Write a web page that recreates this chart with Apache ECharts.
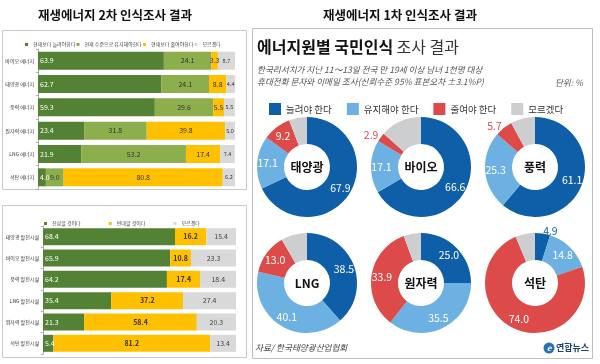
<!DOCTYPE html>
<html><head><meta charset="utf-8">
<script src="https://cdn.jsdelivr.net/npm/echarts@6/dist/echarts.min.js"></script>
<style>html,body{margin:0;padding:0;background:#fff}#c{width:600px;height:364px}</style>
</head><body><div id="c"></div>
<script>
// ---- Data: 2nd survey (top-left) ----
const catsTop = ['바이오 에너지','태양광 에너지','풍력 에너지','원자력 에너지','LNG 에너지','석탄 에너지'];
const namesTop = ['현재보다 늘려야한다','현재 수준으로 유지해야한다','현재보다 줄여야한다','모르겠다'];
const topIncrease = [63.9,62.7,59.3,23.4,21.9,4.0];
const topMaintain = [24.1,24.1,29.6,31.8,53.2,9.0];
const topDecrease = [3.3,8.8,5.5,39.8,17.4,80.8];
const topUnknown  = [8.7,4.4,5.5,5.0,7.4,6.2];

// ---- Data: 2nd survey (bottom-left) ----
const catsBottom = ['태양광 발전시설','바이오 발전시설','풍력 발전시설','LNG 발전시설','원자력 발전시설','석탄 발전시설'];
const namesBottom = ['찬성할 것이다','반대할 것이다','모르겠다'];
const botAgree  = [68.4,65.9,64.2,35.4,21.3,5.4];
const botOppose = [16.2,10.8,17.4,37.2,58.4,81.2];
const botUnsure = [15.4,23.3,18.4,27.4,20.3,13.4];

// ---- Data: 1st survey (donuts) ----
const pieNames = ['늘려야 한다','유지해야 한다','줄여야 한다','모르겠다'];
const pieSources = ['태양광','바이오','풍력','LNG','원자력','석탄'];
const pieIncrease = [67.9,66.6,61.1,38.5,25.0,4.9];
const pieMaintain = [17.1,17.1,25.3,40.1,35.5,14.8];
const pieDecrease = [9.2,2.9,5.7,13.0,33.9,74.0];
const pieUnknown  = [5.8,13.4,7.9,8.4,5.6,6.3];

// ---- Styling / layout ----
const FONT = '"Noto Sans CJK KR", "Noto Sans", sans-serif';
const greenD = '#548235', greenL = '#8DAE4C', yellow = '#FFC000', grayL = '#D9D9D9';
const pieColors = ['#0E5FA8','#6DB1E2','#DC4A4A','#CDCED0'];
const pieCenters = [[307,167],[421,167],[535,167],[307,283],[421,283],[535,283]];

const chart = echarts.init(document.getElementById('c'), null, {renderer:'canvas'});

const fmt = p => p.value.toFixed(1);
function barSeries(name, data, color, xi, labelColor, pos, bw, bold) {
  return {
    type:'bar', name, data, stack:'s'+xi, xAxisIndex:xi, yAxisIndex:xi, barWidth:bw,
    itemStyle:{color}, silent:true,
    label:{show:true, position:pos, formatter:fmt, color:labelColor, fontSize:7,
      fontFamily:FONT, fontWeight: bold ? 'bold' : 'normal', distance:2}
  };
}

const series = [
  barSeries(namesTop[0], topIncrease, greenD, 0, '#fff', 'insideLeft', 18),
  barSeries(namesTop[1], topMaintain, greenL, 0, '#333', 'inside', 18),
  barSeries(namesTop[2], topDecrease, yellow, 0, '#333', 'inside', 18),
  barSeries(namesTop[3], topUnknown, grayL, 0, '#333', 'inside', 18),
  barSeries(namesBottom[0], botAgree, greenD, 1, '#fff', 'insideLeft', 17),
  barSeries(namesBottom[1], botOppose, yellow, 1, '#333', 'inside', 17, true),
  barSeries(namesBottom[2], botUnsure, grayL, 1, '#444', 'inside', 17)
];
series[3].label.fontSize = 5.5;

const pieVals = [pieIncrease, pieMaintain, pieDecrease, pieUnknown];
pieSources.forEach((src, i) => {
  series.push({
    type:'pie', name:src, center:pieCenters[i], radius:[23,50], startAngle:90, clockwise:true,
    avoidLabelOverlap:false, silent:true,
    labelLine:{show:false, length:3, length2:0},
    data: pieNames.map((n, k) => {
      const v = pieVals[k][i];
      const outside = v < 6;
      return {
        name:n, value:v, itemStyle:{color:pieColors[k]},
        label:{show:k < 3, position: outside ? 'outside' : 'inside',
          formatter:p => p.value.toFixed(1),
          color: outside ? pieColors[k] : '#fff',
          fontSize:10.5, fontFamily:FONT, distanceToLabelLine:0}
      };
    })
  });
});

const graphics = [
  {type:'rect', shape:{x:2.5,y:30.5,width:244,height:159}, style:{fill:'none', stroke:'#c9c9c9', lineWidth:1}},
  {type:'rect', shape:{x:2.5,y:205.5,width:244,height:152}, style:{fill:'none', stroke:'#c9c9c9', lineWidth:1}},
  {type:'rect', shape:{x:252.5,y:28.5,width:340,height:330}, style:{fill:'none', stroke:'#bdbdbd', lineWidth:1}},
  {type:'text', x:115, y:15, style:{text:'재생에너지 2차 인식조사 결과', align:'center', verticalAlign:'middle',
    fontSize:12.5, fontWeight:'bold', fontFamily:FONT, fill:'#111'}},
  {type:'text', x:400, y:15, style:{text:'재생에너지 1차 인식조사 결과', align:'center', verticalAlign:'middle',
    fontSize:12.5, fontWeight:'bold', fontFamily:FONT, fill:'#111'}},
  {type:'text', x:257, y:47, style:{text:'{b|에너지원별 국민인식} {n|조사 결과}', verticalAlign:'middle',
    rich:{b:{fontSize:16, fontWeight:'bold', fontFamily:FONT, fill:'#111'},
          n:{fontSize:16, fontFamily:FONT, fill:'#333'}}}},
  {type:'text', x:257, y:70, style:{text:'한국리서치가 지난 11～13일 전국 만 19세 이상 남녀 1천명 대상', verticalAlign:'middle',
    fontSize:8.6, fontStyle:'italic', fontFamily:FONT, fill:'#555'}},
  {type:'text', x:257, y:82, style:{text:'휴대전화 문자와 이메일 조사(신뢰수준 95% 표본오차 ±3.1%P)', verticalAlign:'middle',
    fontSize:8.6, fontStyle:'italic', fontFamily:FONT, fill:'#555'}},
  {type:'text', x:583, y:83, style:{text:'단위: %', align:'right', verticalAlign:'middle',
    fontSize:8.6, fontStyle:'italic', fontFamily:FONT, fill:'#555'}},
  {type:'text', x:255, y:348, style:{text:'자료/ 한국태양광산업협회', verticalAlign:'middle',
    fontSize:8.6, fontStyle:'italic', fontFamily:FONT, fill:'#444'}},
  {type:'circle', shape:{cx:549, cy:348, r:5.5}, style:{fill:'#2a6fb6'}},
  {type:'text', x:549, y:348, style:{text:'e', align:'center', verticalAlign:'middle',
    fontSize:8, fontWeight:'bold', fontStyle:'italic', fontFamily:FONT, fill:'#fff'}},
  {type:'text', x:556, y:348, style:{text:'연합뉴스', verticalAlign:'middle',
    fontSize:9, fontWeight:'bold', fontFamily:FONT, fill:'#1b3f7a'}}
];
pieSources.forEach((src, i) => {
  graphics.push({type:'text', x:pieCenters[i][0], y:pieCenters[i][1], z:10,
    style:{text:src, align:'center', verticalAlign:'middle', fontSize:12, fontWeight:'bold',
      fontFamily:FONT, fill:'#111'}});
});

const catAxis = (data, gi) => ({
  type:'category', gridIndex:gi, data, inverse:true,
  axisLine:{show:true, lineStyle:{color:'#999', width:0.8}},
  axisTick:{show:true, length:2, lineStyle:{color:'#999', width:0.8}},
  axisLabel:{fontSize:5, color:'#333', fontFamily:FONT, margin:4}
});
const valAxis = gi => ({type:'value', gridIndex:gi, min:0, max:100, show:false, splitLine:{show:false}});

const option = {
  animation:false,
  backgroundColor:'#fff',
  grid:[
    {left:38, top:49, width:197, height:140},
    {left:43, top:226, width:193, height:128}
  ],
  xAxis:[valAxis(0), valAxis(1)],
  yAxis:[catAxis(catsTop,0), catAxis(catsBottom,1)],
  legend:[
    {data:namesTop.map((n,k)=>({name:n, itemStyle:{color:[greenD,greenL,yellow,grayL][k]}})),
     left:20, top:37, itemWidth:3, itemHeight:3, itemGap:1, icon:'rect', selectedMode:false,
     textStyle:{fontSize:5, color:'#444', fontFamily:FONT}},
    {data:namesBottom.map((n,k)=>({name:n, itemStyle:{color:[greenD,yellow,grayL][k]}})),
     left:39, top:216, itemWidth:3, itemHeight:3, itemGap:28, icon:'rect', selectedMode:false,
     textStyle:{fontSize:5, color:'#444', fontFamily:FONT}},
    {data:pieNames.map((n,k)=>({name:n, itemStyle:{color:pieColors[k]}})),
     left:264, top:98, itemWidth:12, itemHeight:12, itemGap:15, icon:'rect', selectedMode:false,
     textStyle:{fontSize:9.5, color:'#333', fontFamily:FONT}}
  ],
  series,
  graphic: graphics
};
chart.setOption(option);
</script>
</body></html>
